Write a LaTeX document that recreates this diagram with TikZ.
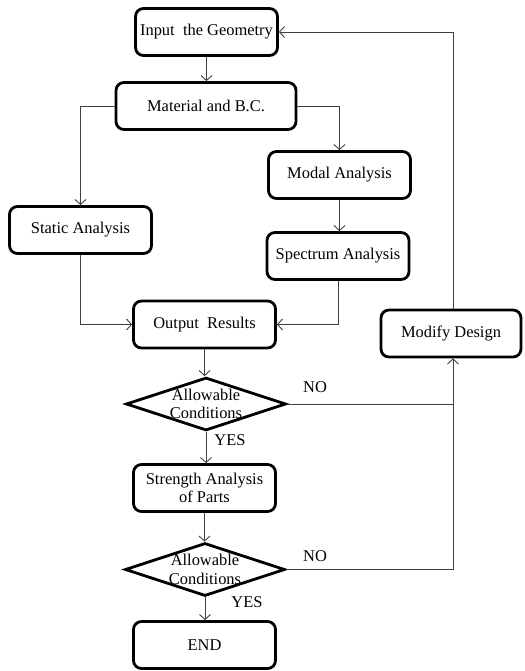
\documentclass[tikz,border=0pt]{standalone}
\usepackage{fontspec}
\setmainfont{Liberation Serif}
\usetikzlibrary{arrows.meta,shapes.geometric}
\begin{document}
\begin{tikzpicture}[x=1bp,y=-1bp,
  box/.style={draw=black,line width=2.8bp,rounded corners=8bp,minimum width=142bp,minimum height=47bp,inner sep=0pt,align=center,font=\fontsize{16.5}{18.5}\selectfont},
  dia/.style={draw=black,line width=2.8bp,diamond,minimum width=160bp,minimum height=53bp,inner sep=0pt},
  conn/.style={draw=black!75,line width=0.9bp,-{Straight Barb[length=5bp,width=11bp]}},
  plain/.style={draw=black!75,line width=0.9bp},
  lbl/.style={font=\fontsize{16.5}{18.5}\selectfont,inner sep=0pt,align=center}]
\useasboundingbox (0,0) rectangle (525,671);
\node[box] (in) at (206.5,32) {Input~ the Geometry};
\node[box,minimum width=180bp] (mat) at (206,106) {Material and B.C.};
\node[box] (stat) at (80.5,230) {Static Analysis};
\node[box] (modal) at (339.5,175) {Modal Analysis};
\node[box] (spec) at (338,256) {Spectrum Analysis};
\node[box] (out) at (204.5,324.5) {Output~ Results};
\node[box,minimum width=140bp] (mod) at (451,333.5) {Modify Design};
\node[dia] (d1) at (206,404) {};
\node[lbl] (d1t) at (206,404) {Allowable\\Conditions};
\node[box] (str) at (204.5,488) {Strength Analysis\\of Parts};
\node[dia] (d2) at (205,569.5) {};
\node[lbl] (d2t) at (205,569.5) {Allowable\\Conditions};
\node[box] (end) at (204.5,645) {END};
\node[lbl] (no1) at (315,387) {NO};
\node[lbl] (no2) at (315,556) {NO};
\node[lbl] (yes1) at (230,440) {YES};
\node[lbl] (yes2) at (247,602) {YES};
\draw[conn] (in.south) -- (in.south |- mat.north);
\draw[conn] (mat.west) -| (stat.north);
\draw[conn] (mat.east) -| (modal.north);
\draw[conn] (modal.south) -- (modal.south |- spec.north);
\draw[conn] (stat.south) |- (out.west);
\draw[conn] (spec.south) |- (out.east);
\draw[conn] (out.south) -- (out.south |- d1.north);
\draw[conn] (d1.south) -- (d1.south |- str.north);
\draw[conn] (str.south) -- (str.south |- d2.north);
\draw[conn] (d2.south) -- (d2.south |- end.north);
\draw[conn] (d1.east) -| ([xshift=2bp]mod.south);
\draw[plain] (d2.east) -| ([xshift=2bp]mod.south |- d1.east);
\draw[conn] ([xshift=2bp]mod.north) |- (in.east);
\end{tikzpicture}
\end{document}
